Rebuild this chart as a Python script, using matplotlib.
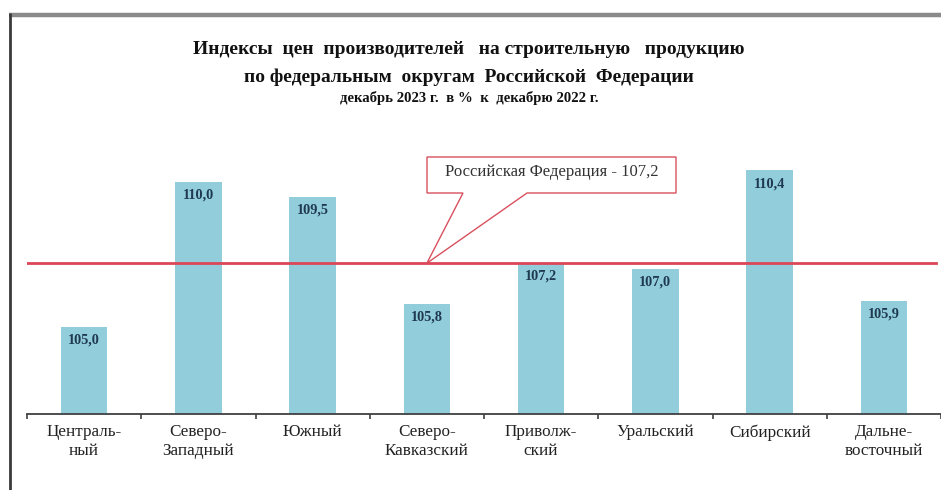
import matplotlib
matplotlib.use("Agg")
import matplotlib.pyplot as plt
from matplotlib.patches import Polygon
from matplotlib.lines import Line2D
import numpy as np

categories = ["Централь-\nный", "Северо-\nЗападный", "Южный", "Северо-\nКавказский",
              "Приволж-\nский", "Уральский", "Сибирский", "Дальне-\nвосточный"]
values = [105.0, 110.0, 109.5, 105.8, 107.2, 107.0, 110.4, 105.9]
value_labels = ["105,0", "110,0", "109,5", "105,8", "107,2", "107,0", "110,4", "105,9"]
rf_value = 107.2
rf_label = "Российская Федерация - 107,2"
title_lines = ["Индексы  цен  производителей   на строительную   продукцию",
               "по федеральным  округам  Российской  Федерации"]
subtitle = "декабрь 2023 г.  в %  к  декабрю 2022 г."

plt.rcParams['font.family'] = ['Liberation Serif', 'DejaVu Serif']

W, H = 941, 490
fig = plt.figure(figsize=(W / 100, H / 100), dpi=100)
fig.patch.set_facecolor('white')

# frame borders
fig.add_artist(Line2D([9 / W, 1.0], [1 - 15 / H, 1 - 15 / H], transform=fig.transFigure,
                      color='#8a8a8a', lw=3.2, solid_capstyle='butt'))
fig.add_artist(Line2D([10 / W, 10 / W], [0, 1 - 13 / H], transform=fig.transFigure,
                      color='#3a3a3a', lw=2.0, solid_capstyle='butt'))

ax = fig.add_axes([27 / W, (H - 414) / H, 914 / W, 294 / H])
ymin = 102.0
ymax = ymin + 294 / 29.0
x = np.arange(len(categories))
ax.bar(x, values, width=0.405, color='#92CDDC', bottom=0, zorder=2)
ax.set_ylim(ymin, ymax)
ax.set_xlim(-0.5, len(categories) - 0.5)

for xi, v, lab in zip(x, values, value_labels):
    ax.annotate(lab, (xi, v), xytext=(0, -9.5), textcoords='offset points',
                ha='center', va='center', fontsize=10.3, fontweight='bold',
                color='#1f3a50', zorder=4)

ax.axhline(rf_value, color='#DC4656', lw=2.0, zorder=3, xmax=0.995)

# callout
ppx = 114.25
def dx(px):
    return (px - 27) / ppx - 0.5
def dy(py):
    return ymin + (414 - py) / 29.0
tip = (3.0, rf_value)
box_l, box_r, box_t, box_b = dx(427), dx(676), dy(157), dy(193)
n1, n2 = dx(463), dx(527)
poly = Polygon([(box_l, box_t), (box_r, box_t), (box_r, box_b), (n2, box_b), tip,
                (n1, box_b), (box_l, box_b)], closed=True, facecolor='white',
               edgecolor='#D8505E', lw=1.0, zorder=5)
ax.add_patch(poly)
ax.text((box_l + box_r) / 2 + 0.0, (box_t + box_b) / 2 + 0.1, rf_label, ha='center', va='center',
        fontsize=12, color='#333333', zorder=6)

for s in ['top', 'right', 'left']:
    ax.spines[s].set_visible(False)
ax.spines['bottom'].set_color('#404040')
ax.spines['bottom'].set_linewidth(1.3)
ax.set_yticks([])
ax.set_xticks(x)
ax.set_xticklabels(categories, fontsize=12.3, color='#222222', linespacing=1.22, va='top')
ax.tick_params(axis='x', which='major', length=0, pad=7.5)
ax.set_xticks(np.arange(-0.5, len(categories)), minor=True)
ax.tick_params(axis='x', which='minor', length=3.5, width=1.2, color='#404040', direction='out')

fig.text(469 / W, 1 - 50 / H, title_lines[0], ha='center', va='center', fontsize=14,
         fontweight='bold', color='#111111')
fig.text(469 / W, 1 - 77 / H, title_lines[1], ha='center', va='center', fontsize=14,
         fontweight='bold', color='#111111')
fig.text(469 / W, 1 - 98 / H, subtitle, ha='center', va='center', fontsize=10.6,
         fontweight='bold', color='#111111')

fig.savefig('out.png', dpi=100, facecolor='white')
